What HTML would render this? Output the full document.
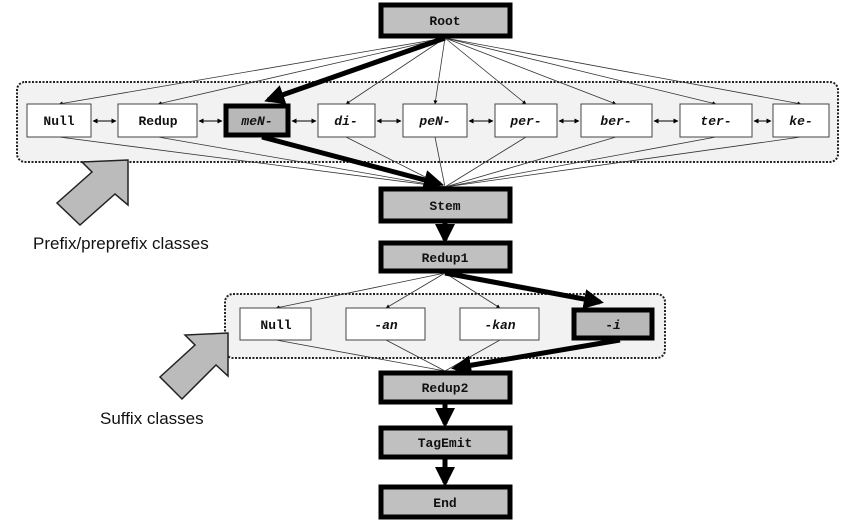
<!DOCTYPE html>
<html><head><style>
body{margin:0;background:#fff;}
svg{display:block}
.m{font-family:"Liberation Mono",monospace;font-size:13px;font-weight:bold;fill:#111}
.i{font-style:italic}
</style></head><body>
<svg width="861" height="529" viewBox="0 0 861 529" xmlns="http://www.w3.org/2000/svg">
<defs>
<marker id="a" viewBox="0 0 10 10" refX="9" refY="5" markerWidth="5" markerHeight="5" orient="auto-start-reverse"><path d="M0,0L10,5L0,10z" fill="#000"/></marker>
<marker id="b" viewBox="0 0 10 10" refX="8" refY="5" markerWidth="4" markerHeight="4" orient="auto"><path d="M0,0L10,5L0,10z" fill="#000"/></marker>
</defs>
<!-- containers -->
<rect x="17" y="82" width="821" height="80" rx="8" fill="#f2f2f2" stroke="#222" stroke-width="2" stroke-dasharray="2,1.5"/>
<rect x="225" y="294" width="440" height="64" rx="8" fill="#f2f2f2" stroke="#222" stroke-width="2" stroke-dasharray="2,1.5"/>
<!-- root fan lines -->
<g stroke="#333" stroke-width="0.8" marker-end="url(#a)" fill="none">
<line x1="445" y1="38" x2="59" y2="104"/>
<line x1="445" y1="38" x2="158" y2="104"/>
<line x1="445" y1="38" x2="346" y2="104"/>
<line x1="445" y1="38" x2="435" y2="104"/>
<line x1="445" y1="38" x2="526" y2="104"/>
<line x1="445" y1="38" x2="616" y2="104"/>
<line x1="445" y1="38" x2="716" y2="104"/>
<line x1="445" y1="38" x2="801" y2="104"/>
</g>
<g stroke="#333" stroke-width="0.8" fill="none">
<line x1="59" y1="137" x2="445" y2="187"/>
<line x1="158" y1="137" x2="445" y2="187"/>
<line x1="346" y1="137" x2="445" y2="187"/>
<line x1="435" y1="137" x2="445" y2="187"/>
<line x1="526" y1="137" x2="445" y2="187"/>
<line x1="616" y1="137" x2="445" y2="187"/>
<line x1="716" y1="137" x2="445" y2="187"/>
<line x1="801" y1="137" x2="445" y2="187"/>
</g>
<!-- thick paths -->
<line x1="445" y1="38" x2="268" y2="100" stroke="#000" stroke-width="5" marker-end="url(#b)"/>
<line x1="262" y1="137" x2="440" y2="184" stroke="#000" stroke-width="5" marker-end="url(#b)"/>
<line x1="445" y1="223" x2="445" y2="240" stroke="#000" stroke-width="5" marker-end="url(#b)"/>
<!-- bidirectional arrows -->
<g stroke="#000" stroke-width="1" marker-start="url(#a)" marker-end="url(#a)">
<line x1="93" y1="121" x2="116" y2="121"/>
<line x1="199" y1="121" x2="222" y2="121"/>
<line x1="292" y1="121" x2="316" y2="121"/>
<line x1="377" y1="121" x2="401" y2="121"/>
<line x1="469" y1="121" x2="493" y2="121"/>
<line x1="559" y1="121" x2="579" y2="121"/>
<line x1="654" y1="121" x2="678" y2="121"/>
<line x1="754" y1="121" x2="771" y2="121"/>
</g>
<!-- suffix lines -->
<g stroke="#333" stroke-width="0.8" fill="none">
<line x1="445" y1="273" x2="276" y2="308" marker-end="url(#a)"/>
<line x1="445" y1="273" x2="386" y2="308" marker-end="url(#a)"/>
<line x1="445" y1="273" x2="500" y2="308" marker-end="url(#a)"/>
<line x1="276" y1="340" x2="445" y2="371"/>
<line x1="386" y1="340" x2="445" y2="371"/>
<line x1="500" y1="340" x2="445" y2="371"/>
</g>
<line x1="445" y1="273" x2="600" y2="302" stroke="#000" stroke-width="5" marker-end="url(#b)"/>
<line x1="620" y1="340" x2="455" y2="368" stroke="#000" stroke-width="5" marker-end="url(#b)"/>
<line x1="445" y1="404" x2="445" y2="424" stroke="#000" stroke-width="5" marker-end="url(#b)"/>
<line x1="445" y1="459" x2="445" y2="483" stroke="#000" stroke-width="5" marker-end="url(#b)"/>
<!-- main nodes -->
<g fill="#c0c0c0" stroke="#000" stroke-width="5">
<rect x="381" y="5" width="129" height="31"/>
<rect x="381" y="189" width="129" height="32"/>
<rect x="381" y="243" width="129" height="28"/>
<rect x="381" y="373" width="129" height="29"/>
<rect x="381" y="428" width="129" height="29"/>
<rect x="381" y="487" width="129" height="30"/>
</g>
<g class="m" text-anchor="middle">
<text x="445" y="25">Root</text>
<text x="445" y="210">Stem</text>
<text x="445" y="262">Redup1</text>
<text x="445" y="392">Redup2</text>
<text x="445" y="447">TagEmit</text>
<text x="445" y="507">End</text>
</g>
<!-- prefix boxes -->
<g fill="#fff" stroke="#444" stroke-width="1">
<rect x="27" y="104" width="64" height="33"/>
<rect x="118" y="104" width="79" height="33"/>
<rect x="318" y="104" width="57" height="33"/>
<rect x="403" y="104" width="64" height="33"/>
<rect x="495" y="104" width="62" height="33"/>
<rect x="581" y="104" width="71" height="33"/>
<rect x="680" y="104" width="72" height="33"/>
<rect x="773" y="104" width="56" height="33"/>
<rect x="240" y="308" width="71" height="32"/>
<rect x="346" y="308" width="79" height="32"/>
<rect x="460" y="308" width="79" height="32"/>
</g>
<rect x="226" y="106" width="62" height="29" fill="#b8b8b8" stroke="#000" stroke-width="5"/>
<rect x="574" y="310" width="78" height="28" fill="#b8b8b8" stroke="#000" stroke-width="5"/>
<g class="m" text-anchor="middle">
<text x="59" y="125">Null</text>
<text x="158" y="125">Redup</text>
<text class="i" x="257" y="125">meN-</text>
<text class="i" x="346" y="125">di-</text>
<text class="i" x="435" y="125">peN-</text>
<text class="i" x="526" y="125">per-</text>
<text class="i" x="616" y="125">ber-</text>
<text class="i" x="716" y="125">ter-</text>
<text class="i" x="801" y="125">ke-</text>
<text x="276" y="329">Null</text>
<text x="386" y="329">-<tspan class="i">an</tspan></text>
<text x="500" y="329">-<tspan class="i">kan</tspan></text>
<text x="613" y="329">-<tspan class="i">i</tspan></text>
</g>
<!-- big arrows -->
<polygon points="128,160 128,205 115,194 80,225 57,203 92,172 82,162" fill="#bbb" stroke="#222" stroke-width="1.5"/>
<polygon points="228,333 228,376 216,365 182,399 160,377 195,345 185,335" fill="#bbb" stroke="#222" stroke-width="1.5"/>
<g font-family="Liberation Sans, sans-serif" font-size="17" fill="#111">
<text x="33" y="249">Prefix/preprefix classes</text>
<text x="100" y="424">Suffix classes</text>
</g>
</svg>
</body></html>
